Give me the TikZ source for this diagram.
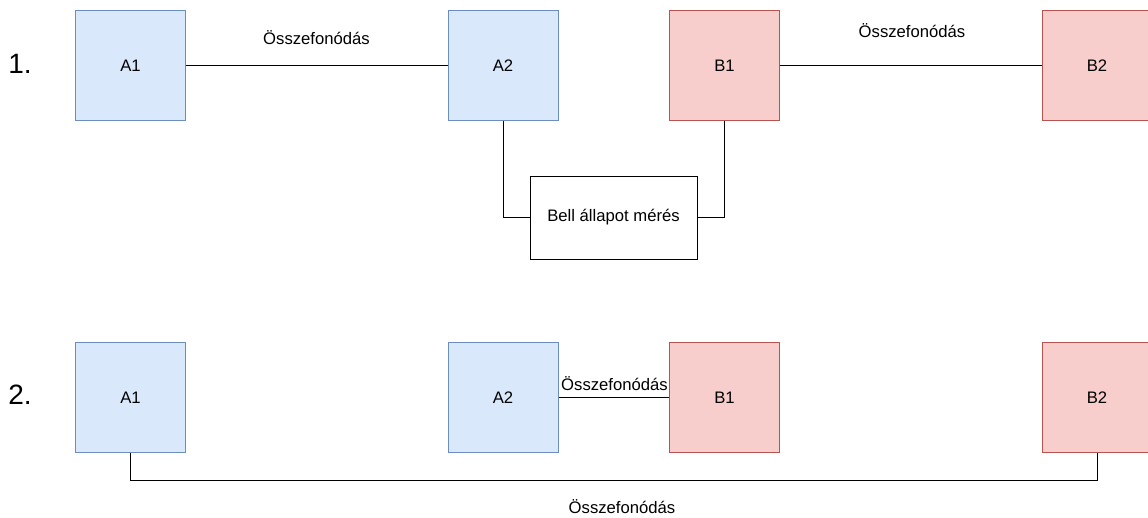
\documentclass[tikz,border=0pt]{standalone}
\usepackage{fontspec}
\setmainfont{Liberation Sans}
\begin{document}
\begin{tikzpicture}[x=0.75pt,y=-0.75pt,
  base/.style={draw, line width=0.75pt, inner sep=0pt, font=\fontsize{12.5}{14}\selectfont},
  qa/.style={base, fill=blueF, draw=blueD, minimum width=82.5pt, minimum height=82.5pt},
  qb/.style={base, fill=redF, draw=redD, minimum width=82.5pt, minimum height=82.5pt},
  bell/.style={base, fill=white, draw=black, minimum width=125.25pt, minimum height=62.25pt},
  lbl/.style={inner sep=0pt, font=\fontsize{12.5}{14}\selectfont},
  num/.style={inner sep=0pt, font=\fontsize{21}{24}\selectfont},
  link/.style={line width=0.75pt}]
\definecolor{blueF}{HTML}{DAE8FC}
\definecolor{blueD}{HTML}{6C8EBF}
\definecolor{redF}{HTML}{F8CECC}
\definecolor{redD}{HTML}{B85450}
\useasboundingbox[fill=white] (0,0) rectangle (1148,517);
% row 1
\node[num] (n1) at (20,64) {1.};
\node[qa] (a1) at (130.5,65.5) {A1};
\node[qa] (a2) at (503,65.5) {A2};
\node[qb] (b1) at (724.5,65.5) {B1};
\node[qb] (b2) at (1097,65.5) {B2};
\node[bell] (bm) at (613.5,217.5) {Bell állapot mérés};
\draw[link] (a1) -- (a2);
\draw[link] (b1) -- (b2);
\draw[link] (a2.south) |- (bm.west);
\draw[link] (b1.south) |- (bm.east);
\node[lbl] (l1) at (316.5,38) {Összefonódás};
\node[lbl] (l2) at (912,31) {Összefonódás};
% row 2
\node[num] (n2) at (20,395) {2.};
\node[qa] (c1) at (130.5,397.5) {A1};
\node[qa] (c2) at (503,397.5) {A2};
\node[qb] (d1) at (724.5,397.5) {B1};
\node[qb] (d2) at (1097,397.5) {B2};
\draw[link] (c2) -- (d1);
\coordinate (k1) at (130.5,480);
\coordinate (k2) at (1097,480);
\draw[link] (c1.south) -- (k1) -- (k2) -- (d2.south);
\node[lbl] (l3) at (614.5,383.5) {Összefonódás};
\node[lbl] (l4) at (622,506.5) {Összefonódás};
\end{tikzpicture}
\end{document}
